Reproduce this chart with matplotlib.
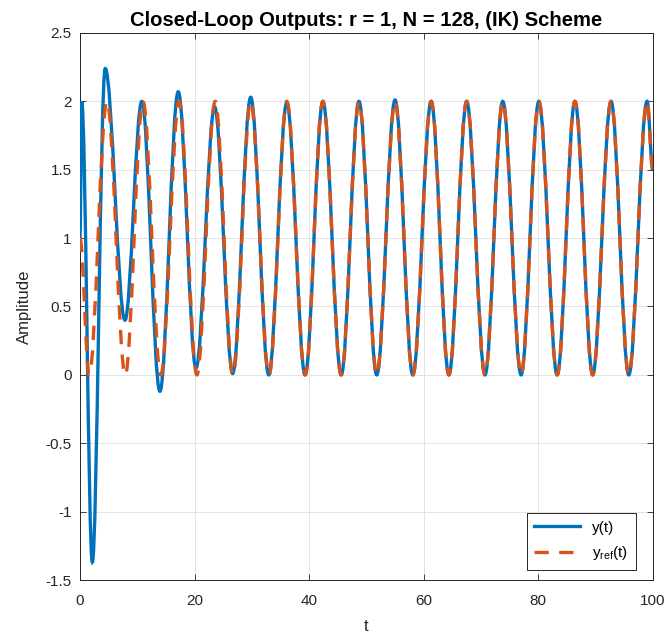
import numpy as np
import matplotlib
matplotlib.use("Agg")
import matplotlib.pyplot as plt
from matplotlib.path import Path
from matplotlib.patches import PathPatch
from matplotlib.lines import Line2D

plt.rcParams['font.family'] = ['Liberation Sans', 'DejaVu Sans']
plt.rcParams['mathtext.fontset'] = 'custom'
plt.rcParams['mathtext.rm'] = 'Liberation Sans'
plt.rcParams['mathtext.it'] = 'Liberation Sans'

# turning points (t, value)
y_t = [0.0, 0.3, 2.15, 4.4, 7.85, 10.8, 13.95, 17.15, 20.25, 23.5, 26.65, 29.8,
       32.95, 36.1, 39.3, 42.4, 45.6, 48.7, 51.8, 55.0, 58.1, 61.3, 64.4, 67.5,
       70.7, 73.8, 77.0, 80.1, 83.3, 86.4, 89.5, 92.7, 95.8, 99.0, 100.0]
y_v = [1.0, 2.0, -1.37, 2.24, 0.40, 2.0, -0.12, 2.07, 0.05, 1.96, 0.01, 2.03,
       0.0, 1.99, 0.0, 2.0, 0.0, 2.0, 0.0, 2.01, 0.0, 2.0, 0.0, 2.0,
       0.0, 2.0, 0.0, 2.0, 0.0, 2.0, 0.0, 2.0, 0.0, 2.0, 1.5]

ref_t = [0.0, 1.6, 4.7, 7.9, 11.0, 14.1, 17.3, 20.4, 23.6, 26.7, 29.8, 33.0,
         36.1, 39.3, 42.4, 45.6, 48.7, 51.8, 55.0, 58.1, 61.3, 64.4, 67.5,
         70.7, 73.8, 77.0, 80.1, 83.3, 86.4, 89.5, 92.7, 95.8, 99.0, 100.0]
ref_v = [1.0, 0.0, 2.0, 0.0, 2.0, 0.0, 2.0, 0.0, 2.0, 0.0, 2.0, 0.0,
         2.0, 0.0, 2.0, 0.0, 2.0, 0.0, 2.0, 0.0, 2.0, 0.0, 2.0,
         0.0, 2.0, 0.0, 2.0, 0.0, 2.0, 0.0, 2.0, 0.0, 2.0, 1.5]

x_ticks = [0, 20, 40, 60, 80, 100]
y_ticks = [-1.5, -1, -0.5, 0, 0.5, 1, 1.5, 2, 2.5]
y_tick_labels = ['-1.5', '-1', '-0.5', '0', '0.5', '1', '1.5', '2', '2.5']

blue = '#0072BD'
orange = '#D95319'


def smooth_path(tx, vy, k=0.36):
    # cubic bezier between turning points, flat tangent at each one
    verts = [(tx[0], vy[0])]
    codes = [Path.MOVETO]
    for i in range(len(tx) - 1):
        dt = tx[i + 1] - tx[i]
        verts += [(tx[i] + k * dt, vy[i]), (tx[i + 1] - k * dt, vy[i + 1]),
                  (tx[i + 1], vy[i + 1])]
        codes += [Path.CURVE4] * 3
    return Path(verts, codes)


fig = plt.figure(figsize=(6.7, 6.4), dpi=100)
ax = fig.add_axes([0.1194, 0.09375, 0.855, 0.8547])

ax.add_patch(PathPatch(smooth_path(y_t, y_v), fill=False, edgecolor=blue,
                       linewidth=2.4, zorder=3))
ax.add_patch(PathPatch(smooth_path(ref_t, ref_v), fill=False, edgecolor=orange,
                       linewidth=2.4, linestyle=(0, (4.3, 3.1)), capstyle='butt',
                       zorder=4))

ax.set_xlim(0, 100)
ax.set_ylim(-1.5, 2.5)
ax.set_xticks(x_ticks)
ax.set_yticks(y_ticks)
ax.set_yticklabels(y_tick_labels)
ax.tick_params(direction='in', top=True, right=True, length=4, width=0.6,
               colors='#262626', labelsize=11)
ax.tick_params(axis='x', pad=10)
ax.tick_params(axis='y', pad=6)
for sp in ax.spines.values():
    sp.set_linewidth(0.7)
    sp.set_color('#262626')
ax.grid(True, color='#e3e3e3', linewidth=0.7)
ax.set_axisbelow(True)

ax.set_title('Closed-Loop Outputs: r = 1, N = 128, (IK) Scheme',
             fontsize=14.6, fontweight='bold', pad=5)
ax.set_xlabel('t', fontsize=12, color='#262626', labelpad=8)
ax.set_ylabel('Amplitude', fontsize=12, color='#262626', labelpad=10)

handles = [Line2D([], [], color=blue, linewidth=2.4),
           Line2D([], [], color=orange, linewidth=2.4, linestyle=(0, (4.3, 3.1)))]
leg = ax.legend(handles, ['y(t)', r'y$_{\mathrm{ref}}$(t)'], loc='lower right',
                fontsize=11, fancybox=False, framealpha=1, edgecolor='#262626',
                handlelength=3.0, borderpad=0.5, labelspacing=0.6,
                bbox_to_anchor=(0.984, 0.005))
leg.get_frame().set_linewidth(0.7)

fig.savefig('out.png', dpi=100)
